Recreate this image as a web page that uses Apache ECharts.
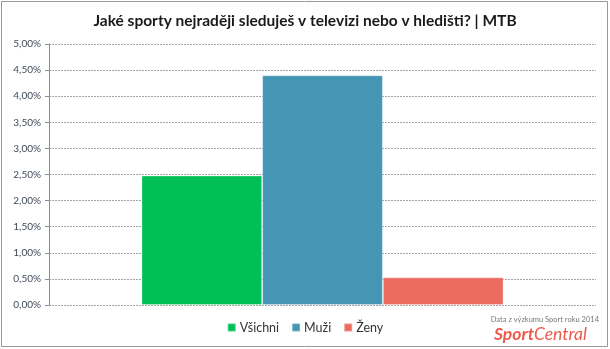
<!DOCTYPE html>
<html>
<head>
<meta charset="utf-8">
<script src="https://cdn.jsdelivr.net/npm/echarts@6/dist/echarts.min.js"></script>
<style>html,body{margin:0;padding:0;background:#fff}#c{width:610px;height:349px}</style>
</head>
<body>
<div id="c"></div>
<script>
const categories = ['MTB'];
const seriesNames = ['Všichni', 'Muži', 'Ženy'];
const valuesVsichni = [2.48];
const valuesMuzi = [4.40];
const valuesZeny = [0.53];
const colors = ['#00BF55', '#4596B4', '#EC6B61'];

const chart = echarts.init(document.getElementById('c'));
const font = 'Lato, "Open Sans", sans-serif';
const seriesData = [valuesVsichni, valuesMuzi, valuesZeny];
chart.setOption({
  animation: false,
  title: {
    text: 'Jaké sporty nejraději sleduješ v televizi nebo v hledišti? | MTB',
    left: 'center', top: 8,
    textStyle: {fontFamily: font, fontSize: 15.5, fontWeight: 'bold', color: '#1a1a1a'}
  },
  grid: {left: 49, right: 14, top: 44, bottom: 44, containLabel: false},
  legend: {
    bottom: 10, left: 'center', icon: 'rect', itemWidth: 8, itemHeight: 8, itemGap: 12,
    textStyle: {fontFamily: font, fontSize: 12.5, color: '#333', padding: [0, 0, 0, -1]},
    data: seriesNames
  },
  xAxis: {
    type: 'category', data: categories,
    axisLine: {show: false}, axisTick: {show: false}, axisLabel: {show: false}
  },
  yAxis: {
    type: 'value', min: 0, max: 5, interval: 0.5,
    axisLine: {show: true, lineStyle: {color: '#8c8c8c'}},
    axisTick: {show: true, length: 4, lineStyle: {color: '#8c8c8c'}},
    axisLabel: {
      fontFamily: font, fontSize: 10, color: '#404a5a', margin: 8,
      formatter: v => v.toFixed(2).replace('.', ',') + '%'
    },
    splitLine: {lineStyle: {color: '#a6a6a6', type: [2, 1], width: 1}}
  },
  series: seriesNames.map((n, i) => ({
    name: n, type: 'bar', data: seriesData[i],
    barGap: '0%', barCategoryGap: '33.8%',
    itemStyle: {color: colors[i], borderColor: 'rgba(255,255,255,0.3)', borderWidth: 1}
  })),
  graphic: [
    {type: 'rect', shape: {x: 1.5, y: 1.5, width: 606, height: 345},
     style: {fill: 'none', stroke: '#999', lineWidth: 1}, silent: true},
    {type: 'text', right: 11, top: 316,
     style: {text: 'Data z výzkumu Sport roku 2014', fontFamily: font, fontSize: 7.5, fill: '#777'}},
    {type: 'text', left: 494, top: 325,
     style: {rich: {
       a: {fontFamily: font, fontSize: 17.5, fontWeight: 'bold', fontStyle: 'italic', fill: '#EC5A4E'},
       b: {fontFamily: font, fontSize: 17.5, fontStyle: 'italic', fill: '#EC5A4E'}
     }, text: '{a|Sport}{b|Central}'}}
  ]
});
</script>
</body>
</html>
